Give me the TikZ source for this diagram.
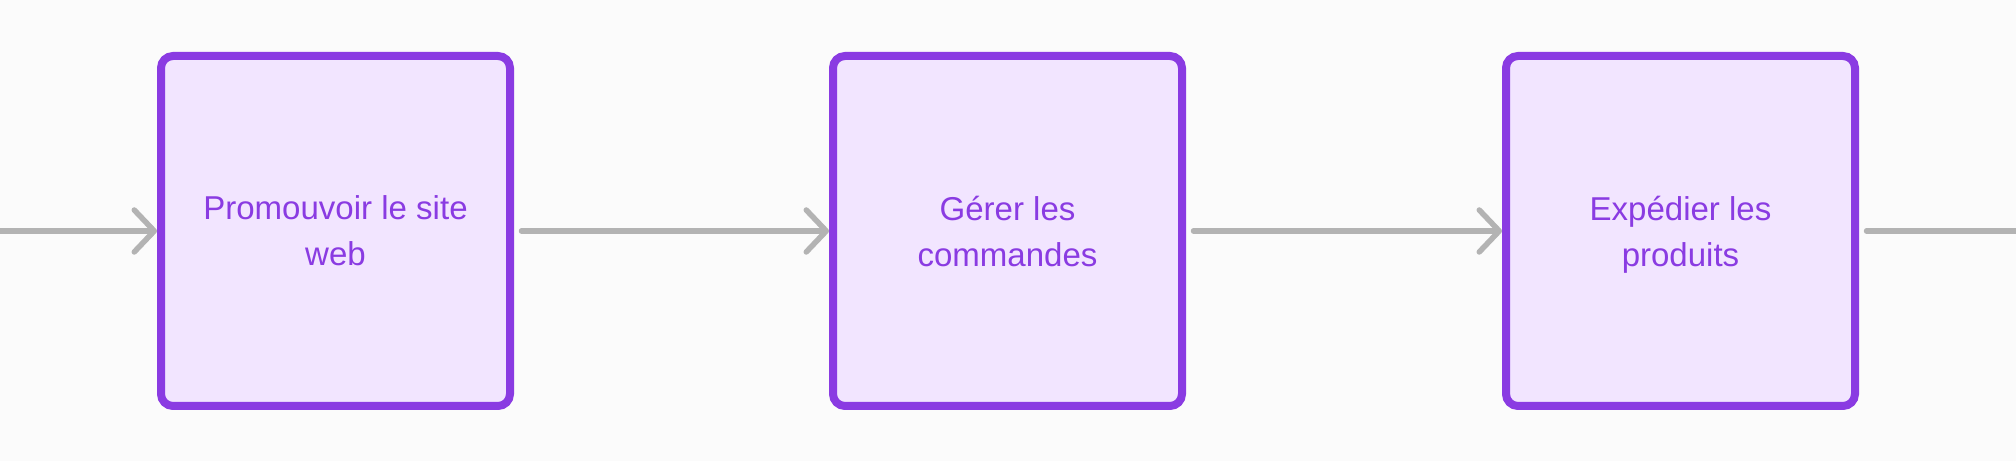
\documentclass[tikz,border=0pt]{standalone}
\usepackage{fontspec}
\setmainfont{Liberation Sans}
\usepackage{xcolor}
\usepackage{tikz}
\usetikzlibrary{arrows.meta, positioning}
\definecolor{boxborder}{HTML}{8A3BE2}
\definecolor{boxfill}{HTML}{F2E5FF}
\definecolor{flowgray}{HTML}{B3B3B3}
\definecolor{pagebg}{HTML}{FBFBFB}
\tikzstyle{process} = [draw=boxborder, fill=boxfill, line width=0.16cm, rounded corners=0.24cm, minimum width=6.98cm, minimum height=7.0cm, align=center, text=boxborder, font=\fontsize{18.8pt}{26.2pt}\selectfont]
\tikzstyle{arrow} = [line width=0.11cm, flowgray, line cap=round, -{Straight Barb[length=0.4cm, width=0.84cm, round]}]

\begin{document}
\begin{tikzpicture}
    % Background
    \fill[pagebg] (0,0) rectangle (40.32,-9.22);
    \useasboundingbox (0,0) rectangle (40.32,-9.22);

    % Steps
    \node[process] (promo) at (6.71,-4.62) {Promouvoir le site\\\smash{web}};
    \node[process, right=6.3cm of promo] (orders) {Gérer les\\\smash{commandes}};
    \node[process, right=6.32cm of orders] (ship) {Expédier les\\\smash{produits}};

    % Loose ends
    \coordinate (start) at (0,-4.62);
    \coordinate (end) at (40.32,-4.62);

    % Flow
    \draw[arrow] (start) -- (promo);
    \draw[arrow, shorten <=0.15cm] (promo) -- (orders);
    \draw[arrow, shorten <=0.15cm] (orders) -- (ship);
    \draw[arrow, -, shorten <=0.15cm] (ship) -- (end);
\end{tikzpicture}
\end{document}
